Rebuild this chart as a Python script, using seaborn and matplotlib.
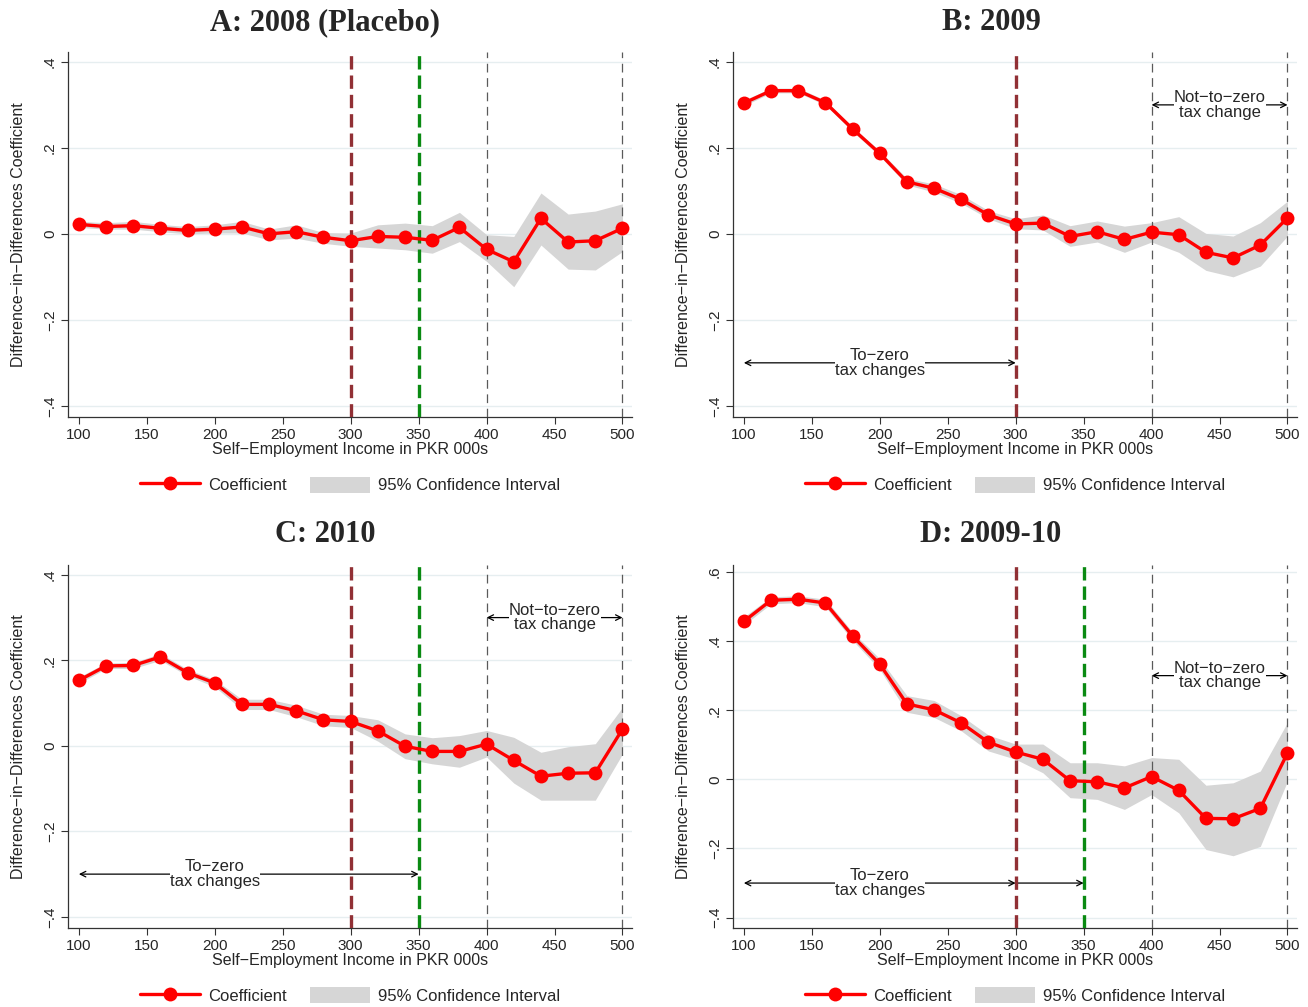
import numpy as np
import pandas as pd
import matplotlib
matplotlib.use("Agg")
import matplotlib.pyplot as plt
import seaborn as sns
from matplotlib.lines import Line2D
from matplotlib.patches import Patch

# %%
income = [100, 120, 140, 160, 180, 200, 220, 240, 260, 280, 300,
          320, 340, 360, 380, 400, 420, 440, 460, 480, 500]

coef_2008 = [0.022, 0.017, 0.019, 0.013, 0.008, 0.011, 0.016, 0.000, 0.005, -0.008, -0.016,
             -0.006, -0.008, -0.015, 0.015, -0.036, -0.065, 0.036, -0.019, -0.016, 0.013]
hi_2008 = [0.029, 0.026, 0.029, 0.022, 0.017, 0.021, 0.029, 0.011, 0.021, 0.003, 0.002,
           0.021, 0.025, 0.019, 0.050, -0.002, -0.006, 0.095, 0.046, 0.053, 0.070]
lo_2008 = [0.015, 0.011, 0.011, 0.005, 0.000, 0.002, 0.002, -0.014, -0.010, -0.022, -0.029,
           -0.033, -0.037, -0.045, -0.018, -0.064, -0.123, -0.026, -0.082, -0.084, -0.041]

coef_2009 = [0.304, 0.333, 0.333, 0.305, 0.244, 0.187, 0.121, 0.106, 0.080, 0.044, 0.023,
             0.025, -0.006, 0.005, -0.013, 0.004, -0.002, -0.043, -0.056, -0.026, 0.037]
hi_2009 = [0.311, 0.339, 0.339, 0.311, 0.249, 0.193, 0.129, 0.116, 0.091, 0.054, 0.035,
           0.044, 0.019, 0.030, 0.018, 0.026, 0.040, 0.001, -0.005, 0.026, 0.076]
lo_2009 = [0.298, 0.328, 0.328, 0.300, 0.238, 0.181, 0.114, 0.097, 0.071, 0.035, 0.012,
           0.009, -0.029, -0.019, -0.043, -0.019, -0.043, -0.085, -0.100, -0.075, -0.005]

coef_2010 = [0.153, 0.187, 0.188, 0.208, 0.171, 0.147, 0.097, 0.097, 0.082, 0.061, 0.057,
             0.035, -0.001, -0.013, -0.013, 0.004, -0.034, -0.071, -0.064, -0.063, 0.039]
hi_2010 = [0.161, 0.194, 0.195, 0.216, 0.179, 0.155, 0.109, 0.109, 0.095, 0.074, 0.071,
           0.061, 0.028, 0.019, 0.024, 0.036, 0.020, -0.015, -0.002, 0.005, 0.090]
lo_2010 = [0.146, 0.181, 0.181, 0.200, 0.164, 0.138, 0.085, 0.085, 0.068, 0.047, 0.043,
           0.011, -0.030, -0.042, -0.050, -0.026, -0.087, -0.127, -0.127, -0.127, -0.019]

coef_0910 = [0.457, 0.518, 0.521, 0.510, 0.415, 0.333, 0.218, 0.201, 0.163, 0.107, 0.079,
             0.058, -0.004, -0.007, -0.025, 0.008, -0.032, -0.113, -0.114, -0.084, 0.076]
hi_0910 = [0.470, 0.528, 0.531, 0.521, 0.426, 0.349, 0.242, 0.228, 0.184, 0.128, 0.102,
           0.102, 0.048, 0.048, 0.039, 0.063, 0.058, -0.017, -0.010, 0.024, 0.165]
lo_0910 = [0.446, 0.508, 0.511, 0.499, 0.402, 0.318, 0.194, 0.179, 0.140, 0.082, 0.058,
           0.019, -0.053, -0.058, -0.087, -0.044, -0.097, -0.203, -0.221, -0.194, -0.005]

titles = ["A: 2008 (Placebo)", "B: 2009", "C: 2010", "D: 2009-10"]
xticks = [100, 150, 200, 250, 300, 350, 400, 450, 500]

# %%
sns.set_style("white")
plt.rcParams['font.family'] = ['Liberation Sans', 'DejaVu Sans']

RED = "#ff0000"
MAROON = "#913035"
GREEN = "#0a8a12"
GRAYLINE = "#5a5a5a"
CIFILL = "#d6d6d6"
GRID = "#e6eef0"

fig = plt.figure(figsize=(13.08, 10.07), dpi=100)

W, H = 1308, 1007
boxes = [(68, 52, 632, 417), (733, 52, 1297, 417),
         (68, 565, 632, 928), (733, 565, 1297, 928)]
title_pos = [(325, 23), (991, 23), (325, 534), (991, 534)]

panels = [
    (coef_2008, hi_2008, lo_2008),
    (coef_2009, hi_2009, lo_2009),
    (coef_2010, hi_2010, lo_2010),
    (coef_0910, hi_0910, lo_0910),
]

for i, (coef, hi, lo) in enumerate(panels):
    x0, y0, x1, y1 = boxes[i]
    ax = fig.add_axes([x0 / W, 1 - y1 / H, (x1 - x0) / W, (y1 - y0) / H])
    df = pd.DataFrame({"income": income, "coef": coef, "hi": hi, "lo": lo})

    if i == 3:
        yt = [-0.4, -0.2, 0, 0.2, 0.4, 0.6]
        ylab = ["\u2212.4", "\u2212.2", "0", ".2", ".4", ".6"]
        ax.set_ylim(-0.43, 0.62)
    else:
        yt = [-0.4, -0.2, 0, 0.2, 0.4]
        ylab = ["\u2212.4", "\u2212.2", "0", ".2", ".4"]
        ax.set_ylim(-0.426, 0.423)
    ax.set_xlim(92, 507)

    for v in yt:
        ax.axhline(v, color=GRID, lw=1.0, zorder=0)

    ax.fill_between(df["income"], df["lo"], df["hi"], color=CIFILL, lw=0, zorder=1)

    # reference lines
    ax.axvline(300, color=MAROON, lw=2.4, dashes=(4, 1.8), zorder=3)
    if i != 1:
        ax.axvline(350, color=GREEN, lw=2.4, dashes=(4, 1.8), zorder=3)
    ax.axvline(400, color=GRAYLINE, lw=0.9, dashes=(7, 4.5), zorder=3)
    ax.axvline(500, color=GRAYLINE, lw=0.9, dashes=(7, 4.5), zorder=3)

    sns.lineplot(data=df, x="income", y="coef", color=RED, lw=2.4, marker="o",
                 markersize=10, markeredgewidth=0, ax=ax, zorder=4)

    # annotations
    if i in (1, 2, 3):
        ax.annotate("", xy=(400, 0.3), xytext=(500, 0.3),
                    arrowprops=dict(arrowstyle="<->", color="black", lw=0.9,
                                    shrinkA=0, shrinkB=0), zorder=2)
        ax.text(450, 0.3, "Not\u2212to\u2212zero\ntax change", ha="center", va="center",
                fontsize=12, linespacing=0.95, zorder=2,
                bbox=dict(facecolor="white", edgecolor="none", pad=0))
        end = 350 if i == 2 else 300
        ax.annotate("", xy=(100, -0.3), xytext=(end, -0.3),
                    arrowprops=dict(arrowstyle="<->", color="black", lw=0.9,
                                    shrinkA=0, shrinkB=0), zorder=2)
        if i == 3:
            ax.annotate("", xy=(350, -0.3), xytext=(300, -0.3),
                        arrowprops=dict(arrowstyle="->", color="black", lw=0.9,
                                        shrinkA=0, shrinkB=0), zorder=2)
        ax.text(200, -0.3, "To\u2212zero\ntax changes", ha="center", va="center",
                fontsize=12, linespacing=0.95, zorder=2,
                bbox=dict(facecolor="white", edgecolor="none", pad=0))

    ax.set_xticks(xticks)
    ax.set_xticklabels([str(t) for t in xticks], fontsize=11)
    ax.set_yticks(yt)
    ax.set_yticklabels(ylab, fontsize=11, rotation=90, va="center")
    ax.tick_params(axis="both", direction="out", length=5, width=0.8,
                   color="#333333", pad=3, left=True, bottom=True)

    for s in ["top", "right"]:
        ax.spines[s].set_visible(False)
    for s in ["left", "bottom"]:
        ax.spines[s].set_color("#333333")
        ax.spines[s].set_linewidth(0.9)

    ax.set_xlabel("Self\u2212Employment Income in PKR 000s", fontsize=11.5)
    ax.set_ylabel("Difference\u2212in\u2212Differences Coefficient", fontsize=11.5)
    ax.xaxis.set_label_coords(0.5, -0.068)
    ax.yaxis.set_label_coords(-0.075, 0.5)

    handles = [Line2D([0], [0], color=RED, lw=2.4, marker="o", markersize=10,
                      markeredgewidth=0),
               Patch(facecolor=CIFILL, edgecolor="none")]
    ax.legend(handles, ["Coefficient", "95% Confidence Interval"], loc="center",
              bbox_to_anchor=(0.5, -0.186), ncol=2, frameon=False, fontsize=12,
              handlelength=3.6, handleheight=1.1, handletextpad=0.5, columnspacing=1.4)

    tx, ty = title_pos[i]
    fig.text(tx / W, 1 - ty / H, titles[i], ha="center", va="center",
             fontsize=22, fontweight="bold", family="Liberation Serif")

fig.savefig("out.png", dpi=100)
